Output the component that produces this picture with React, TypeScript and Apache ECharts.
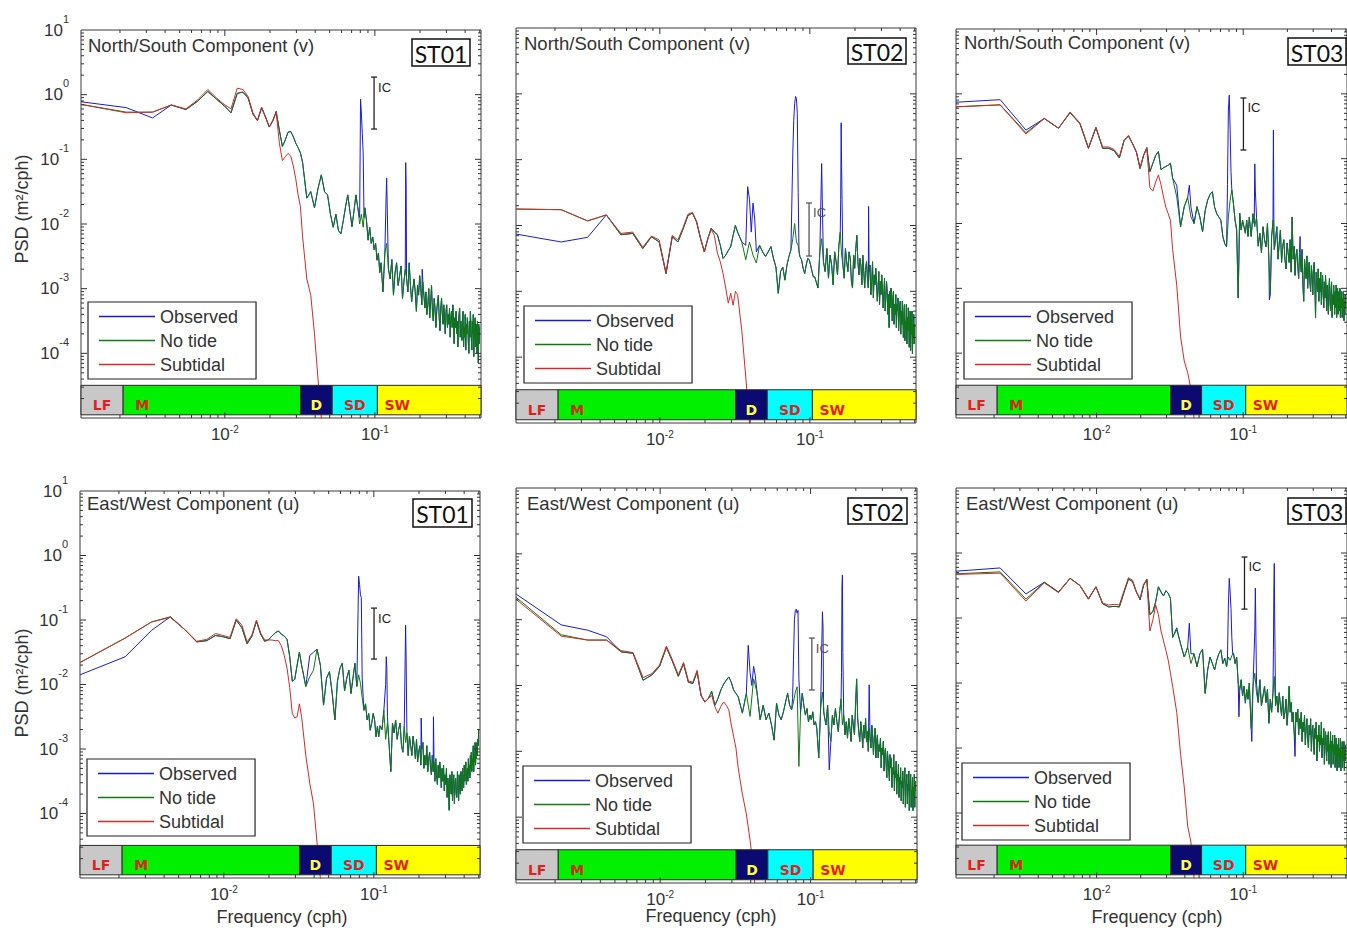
import React, { useEffect, useRef } from "react";
import * as echarts from "echarts";

// Frequency resolution of the spectra (cph) and the bins that are plotted
const DF = 0.0011;
const BINS = [
  1, 2, 3, 4, 5, 6, 7, 8, 9, 10, 11, 12, 13, 14, 15, 16, 17, 18, 19, 20, 21, 22, 23, 24, 25, 26, 27, 28, 29, 30,
  32, 34, 36, 38, 40, 42, 44, 46, 48, 50, 52, 54, 56, 58, 60, 62, 64, 66, 68, 70, 72, 74, 76, 78, 80, 82, 84, 86, 88, 90, 92, 94, 96, 98, 100,
  103, 106, 109, 112, 115, 118, 121, 124, 127, 130, 133, 136, 139, 142, 145, 148, 151, 154, 157, 160,
  163, 166, 169, 172, 175, 178, 181, 184, 187, 190, 193, 196, 199, 202, 205, 208, 211, 214, 217, 220,
  223, 226, 229, 232, 235, 238, 241, 244, 247, 250, 253, 256, 259, 262, 265, 268, 271, 274, 277, 280,
  283, 286, 289, 292, 295, 298, 301, 304, 307, 310, 313, 316, 319, 322, 325, 328, 331, 334, 337, 340,
  343, 346, 349, 352, 355, 358, 361, 364, 367, 370, 373, 376, 379, 382, 385, 388, 391, 394, 397, 400,
  403, 406, 409, 412, 415, 418, 421, 424, 427, 430, 433, 436, 439, 442, 445, 448, 451, 454,
];

// All spectral levels below are log10 of PSD (m²/cph), one value per bin in BINS.
// Observed spectra equal the "No tide" spectra except at the [bin, log10 PSD] points listed.

// ---- North/South component (v), ST01
const NS_ST01_NOTIDE = [
  -0.15, -0.27, -0.27, -0.16, -0.23, -0.10, 0.05, -0.07, -0.17, -0.28, 0.02, 0.04, -0.05, -0.30, -0.40, -0.20, -0.35, -0.50, -0.40, -0.26,
  -0.55, -0.80, -0.70, -0.58, -0.57, -0.65, -0.75, -0.82, -0.90, -1.05,
  -1.60, -1.50, -1.75, -1.45, -1.24, -1.50, -1.55, -1.85, -2.05, -1.85, -2.10, -2.15, -1.95, -1.73, -1.55, -1.80, -2.04, -1.80, -1.55, -1.75,
  -2.00, -1.85, -2.05, -1.75, -1.95, -2.25, -2.05, -2.30, -2.20, -2.40, -2.30, -2.56, -2.45, -2.75, -2.60,
  -3.05, -2.45, -2.30, -2.70, -2.85, -2.55, -3.10, -2.75, -2.60, -2.95,
  -2.80, -2.65, -3.15, -2.90, -2.70, -2.85, -3.05, -2.60, -2.95, -3.20,
  -3.00, -2.85, -3.05, -3.35, -2.95, -3.10, -2.80, -3.00, -3.25, -2.90,
  -3.10, -3.30, -3.05, -3.40, -3.25, -3.00, -3.45, -3.20, -2.95, -3.35,
  -3.50, -3.15, -3.30, -3.60, -3.35, -3.20, -3.10, -3.45, -3.65, -3.30,
  -3.15, -3.40, -3.55, -3.25, -3.45, -3.70, -3.35, -3.25, -3.60, -3.40,
  -3.55, -3.30, -3.75, -3.45, -3.35, -3.60, -3.25, -3.50, -3.85, -3.45,
  -3.60, -3.35, -3.70, -3.50, -3.90, -3.55, -3.40, -3.30, -3.75, -3.50,
  -3.65, -3.80, -3.45, -3.35, -3.90, -3.60, -3.75, -3.40, -3.95, -3.55,
  -3.70, -3.45, -3.60, -3.85, -4.00, -3.50, -3.75, -3.35, -3.55, -3.80,
  -3.95, -3.50, -3.70, -3.40, -4.05, -3.75, -3.60, -3.45, -3.90, -3.55,
  -3.75, -4.00, -3.50, -3.65, -4.15, -3.55, -3.85, -3.60,
];
const NS_ST01_SUBTIDAL = [
  -0.15, -0.28, -0.27, -0.16, -0.22, -0.08, 0.08, -0.05, -0.15, -0.22, 0.10, 0.08, -0.03, -0.28, -0.40, -0.20, -0.35, -0.50, -0.40, -0.27,
  -0.75, -1.02, -0.96, -0.91, -0.95, -1.10, -1.30, -1.55, -1.73, -2.20,
  -2.85, -3.10, -3.70, -4.40, -5.00, -5.60,
];
const NS_ST01_OBS = [
  [1, -0.11], [2, -0.20], [3, -0.36], [72, -1.90], [73, -0.07], [74, -0.30], [75, -0.60], [76, -0.90], [77, -1.90],
  [108, -1.60], [109, -1.29], [146, -1.05], [147, -1.45], [188, -2.70],
];
const NS_ST01_IC = [0.0988, 0.294, 1.87];

// ---- North/South component (v), ST02
const NS_ST02_NOTIDE = [
  -1.75, -1.76, -1.93, -1.84, -2.14, -2.12, -2.35, -2.17, -2.25, -2.73, -2.17, -2.25, -2.05, -1.85, -1.81, -1.95, -2.20, -2.40, -2.20, -2.04,
  -2.10, -2.14, -2.30, -2.50, -2.45, -2.38, -2.32, -2.15, -2.00, -2.10,
  -2.25, -2.52, -2.25, -2.45, -2.57, -2.30, -2.40, -2.47, -2.40, -2.32, -2.50, -2.63, -3.03, -2.70, -2.63, -2.83, -2.60, -2.47, -2.37, -2.20,
  -1.97, -2.25, -2.30, -2.47, -2.52, -2.65, -2.73, -2.60, -2.50, -2.52, -2.60, -2.70, -2.78, -2.78, -2.85,
  -2.95, -2.40, -2.20, -2.55, -2.70, -2.35, -2.80, -2.45, -2.60, -2.90,
  -2.40, -2.55, -2.75, -2.30, -2.10, -2.45, -2.60, -2.80, -2.35, -2.55,
  -2.70, -2.40, -2.50, -2.85, -2.95, -2.45, -2.65, -2.35, -2.15, -2.55,
  -2.75, -2.50, -2.60, -2.90, -2.45, -2.70, -2.95, -2.65, -2.55, -2.80,
  -2.95, -2.70, -2.60, -3.05, -2.85, -2.55, -3.10, -2.75, -2.90, -2.65,
  -2.85, -3.15, -2.95, -2.70, -3.20, -2.85, -3.05, -2.75, -2.95, -3.25,
  -3.05, -2.80, -3.30, -3.10, -2.85, -3.00, -3.35, -3.05, -3.55, -3.00,
  -3.25, -2.95, -3.15, -3.45, -3.10, -3.00, -3.50, -3.20, -3.35, -3.05,
  -3.55, -3.20, -3.30, -3.10, -3.60, -3.40, -3.25, -3.15, -3.65, -3.30,
  -3.50, -3.15, -3.40, -3.70, -3.35, -3.20, -3.75, -3.45, -3.55, -3.20,
  -3.80, -3.40, -3.60, -3.25, -3.50, -3.85, -3.45, -3.30, -3.90, -3.45,
  -3.65, -3.30, -3.95, -3.55, -3.70, -3.35, -3.80, -3.50,
];
const NS_ST02_SUBTIDAL = [
  -1.75, -1.76, -1.93, -1.84, -2.12, -2.10, -2.33, -2.16, -2.22, -2.72, -2.15, -2.22, -2.03, -1.83, -1.80, -1.94, -2.20, -2.40, -2.20, -2.06,
  -2.15, -2.42, -2.55, -2.73, -2.95, -3.18, -3.03, -3.21, -3.00, -3.05,
  -3.60, -4.30, -5.00, -5.60,
];
const NS_ST02_OBS = [
  [1, -2.13], [2, -2.25], [3, -2.18], [34, -2.30], [35, -1.41], [36, -1.60], [37, -2.10], [38, -1.66], [39, -1.90], [40, -2.40],
  [70, -0.90], [71, -0.40], [72, -0.15], [73, -0.04], [74, -0.07], [75, -0.30], [76, -1.50], [77, -2.40],
  [109, -1.06], [110, -1.60], [146, -1.60], [147, -0.44], [148, -1.10], [224, -1.71], [225, -2.30],
];
const NS_ST02_IC = [0.0988, 0.00344, 0.022];

// ---- North/South component (v), ST03
const NS_ST03_NOTIDE = [
  -0.20, -0.17, -0.60, -0.38, -0.53, -0.29, -0.46, -0.84, -0.52, -0.84, -0.84, -0.88, -0.99, -0.72, -0.65, -0.77, -0.90, -1.15, -0.95, -0.83,
  -1.20, -1.07, -0.95, -0.89, -1.17, -1.14, -1.12, -1.10, -1.07, -1.30,
  -1.59, -2.05, -1.74, -1.60, -1.90, -2.00, -1.74, -1.90, -2.13, -1.80, -1.64, -1.55, -1.51, -1.75, -1.85, -1.90, -1.95, -2.20, -2.31, -2.36,
  -1.90, -1.64, -1.48, -1.70, -1.95, -2.10, -3.15, -1.84, -2.10, -1.95, -2.05, -2.15, -1.95, -2.20, -1.90,
  -2.20, -1.85, -2.05, -1.90, -2.35, -2.15, -2.45, -2.05, -2.25, -2.36,
  -2.00, -2.55, -3.10, -2.20, -1.95, -2.40, -2.25, -2.05, -2.55, -2.30,
  -2.10, -2.60, -2.35, -2.25, -2.55, -2.70, -2.30, -2.45, -2.60, -2.25,
  -2.75, -1.90, -2.55, -2.35, -2.80, -2.50, -2.40, -2.65, -2.85, -2.45,
  -2.60, -2.75, -2.40, -2.95, -3.20, -2.55, -2.70, -2.85, -2.50, -3.00,
  -2.75, -2.60, -2.90, -3.05, -2.65, -2.80, -3.10, -2.70, -2.60, -2.95,
  -3.45, -2.75, -2.95, -3.05, -2.70, -3.20, -2.85, -3.05, -2.75, -3.25,
  -2.95, -2.80, -3.10, -3.30, -2.90, -3.15, -2.80, -3.05, -3.35, -2.95,
  -3.15, -3.40, -3.00, -2.85, -3.20, -3.35, -3.05, -2.90, -3.45, -3.10,
  -3.25, -2.95, -3.15, -3.40, -3.05, -3.30, -2.95, -3.45, -3.10, -3.00,
  -3.40, -3.20, -3.05, -3.35, -3.00, -3.45, -3.15, -3.30, -3.05, -3.45,
  -3.15, -3.35, -3.05, -3.50, -3.20, -3.40, -3.10, -3.30,
];
const NS_ST03_SUBTIDAL = [
  -0.20, -0.17, -0.62, -0.38, -0.53, -0.28, -0.45, -0.83, -0.52, -0.82, -0.82, -0.86, -0.97, -0.72, -0.64, -0.77, -0.90, -1.15, -0.95, -0.85,
  -1.45, -1.50, -1.36, -1.25, -1.40, -1.59, -1.75, -1.85, -1.95, -2.40,
  -2.95, -3.75, -4.12, -4.30, -4.55, -5.00, -5.60,
];
const NS_ST03_OBS = [
  [1, -0.13], [2, -0.09], [3, -0.56], [32, -1.41], [39, -1.41], [40, -1.75],
  [71, -1.40], [72, -0.25], [73, -0.02], [74, -0.55], [75, -1.20],
  [108, -2.00], [109, -1.08], [110, -1.50], [137, -3.18], [145, -2.00], [146, -0.56], [147, -1.90], [222, -2.20],
];
const NS_ST03_IC = [0.1003, 0.136, 0.863];

// ---- East/West component (u), ST01
const EW_ST01_NOTIDE = [
  -1.66, -1.28, -1.03, -0.95, -1.15, -1.34, -1.32, -1.24, -1.26, -1.29, -1.00, -1.12, -1.37, -1.25, -1.02, -1.22, -1.33, -1.31, -1.25, -1.20,
  -1.17, -1.22, -1.25, -1.30, -1.57, -1.95, -1.92, -1.70, -1.50, -1.70,
  -2.03, -1.88, -1.78, -1.45, -1.70, -2.32, -1.90, -1.80, -2.14, -2.55, -1.95, -1.75, -1.67, -2.10, -1.90, -1.78, -2.14, -1.90, -1.67, -2.03,
  -1.85, -1.98, -2.20, -2.40, -2.30, -2.55, -2.45, -2.71, -2.60, -2.45, -2.55, -2.81, -2.65, -2.81, -2.64,
  -2.70, -2.40, -2.85, -2.60, -2.95, -3.35, -2.60, -2.75, -2.55, -2.85,
  -2.70, -2.60, -2.95, -3.05, -2.65, -2.90, -2.75, -3.10, -2.80, -2.95,
  -3.10, -2.80, -2.95, -3.15, -2.85, -3.20, -3.05, -2.95, -3.25, -3.00,
  -2.90, -3.30, -3.10, -3.25, -2.95, -3.35, -3.15, -3.05, -3.30, -3.40,
  -3.10, -3.35, -3.20, -3.50, -3.15, -3.40, -3.55, -3.25, -3.45, -3.20,
  -3.35, -3.60, -3.30, -3.50, -3.25, -3.65, -3.40, -3.55, -3.30, -3.75,
  -3.45, -3.60, -3.95, -3.40, -3.55, -3.70, -3.35, -3.80, -3.50, -3.40,
  -3.85, -3.55, -3.45, -3.70, -3.75, -3.35, -3.55, -3.80, -3.40, -3.60,
  -3.70, -3.35, -3.55, -3.65, -3.30, -3.50, -3.60, -3.25, -3.50, -3.35,
  -3.20, -3.55, -3.40, -3.30, -3.50, -3.15, -3.40, -3.25, -3.45, -3.10,
  -3.30, -3.05, -3.35, -3.15, -3.25, -2.95, -3.35, -3.10, -3.20, -2.90,
  -3.25, -3.05, -3.15, -2.90, -3.10, -2.85, -2.95, -2.70,
];
const EW_ST01_SUBTIDAL = [
  -1.66, -1.28, -1.03, -0.96, -1.15, -1.33, -1.30, -1.21, -1.24, -1.27, -0.98, -1.08, -1.34, -1.23, -1.00, -1.20, -1.31, -1.31, -1.31, -1.32,
  -1.32, -1.40, -1.55, -1.75, -2.05, -2.45, -2.52, -2.50, -2.30, -2.50,
  -3.10, -3.53, -3.85, -4.45, -5.00, -5.60,
];
const EW_ST01_OBS = [
  [1, -1.85], [2, -1.57], [3, -1.16], [34, -1.55], [36, -1.50],
  [72, -0.32], [73, -0.45], [74, -0.61], [75, -0.65], [76, -1.90],
  [109, -2.00], [110, -1.57], [111, -1.75], [112, -2.50], [147, -1.60], [148, -1.08], [149, -1.50], [188, -2.52], [227, -2.50],
];
const EW_ST01_IC = [0.1003, 0.0248, 0.153];

// ---- East/West component (u), ST02
const EW_ST02_NOTIDE = [
  -0.66, -1.23, -1.31, -1.31, -1.49, -1.51, -1.92, -1.84, -1.71, -1.42, -1.64, -1.86, -1.67, -1.95, -1.97, -1.79, -2.15, -2.25, -2.20, -2.09,
  -2.30, -2.20, -2.07, -1.98, -1.92, -1.87, -1.95, -2.07, -2.12, -2.17,
  -2.42, -2.12, -2.47, -1.90, -2.10, -2.52, -2.30, -2.52, -2.42, -2.60, -2.83, -2.27, -2.45, -2.52, -2.40, -2.25, -2.12, -2.30, -2.37, -2.25,
  -2.10, -2.02, -3.23, -2.40, -2.12, -2.30, -2.45, -2.35, -2.55, -2.45, -2.52, -2.40, -2.60, -2.55, -2.65,
  -3.10, -2.35, -2.10, -2.45, -2.60, -2.30, -2.70, -2.85, -2.45, -2.60,
  -2.35, -2.55, -2.70, -2.40, -2.20, -2.60, -2.45, -2.75, -2.55, -2.80,
  -2.50, -2.65, -2.85, -2.45, -2.60, -2.75, -2.30, -1.90, -2.50, -2.70,
  -2.85, -2.55, -2.70, -2.95, -2.60, -2.80, -2.50, -2.85, -2.70, -3.00,
  -2.65, -2.80, -2.95, -2.60, -2.75, -3.05, -2.80, -2.65, -3.10, -2.85,
  -2.75, -3.10, -2.90, -3.00, -2.80, -3.25, -2.95, -3.05, -2.85, -3.30,
  -3.05, -2.95, -3.20, -3.40, -3.00, -3.15, -3.30, -3.45, -3.05, -3.25,
  -3.10, -3.55, -3.25, -3.35, -3.05, -3.60, -3.30, -3.40, -3.15, -3.65,
  -3.35, -3.45, -3.20, -3.70, -3.40, -3.50, -3.25, -3.75, -3.45, -3.55,
  -3.30, -3.80, -3.50, -3.40, -3.25, -3.85, -3.55, -3.45, -3.35, -3.80,
  -3.50, -3.60, -3.30, -3.90, -3.55, -3.45, -3.35, -3.85, -3.60, -3.65,
  -3.40, -3.90, -3.55, -3.70, -3.35, -3.85, -3.45, -3.60,
];
const EW_ST02_SUBTIDAL = [
  -0.69, -1.25, -1.31, -1.31, -1.47, -1.50, -1.88, -1.82, -1.69, -1.40, -1.62, -1.84, -1.65, -1.93, -1.95, -1.77, -2.15, -2.25, -2.20, -2.15,
  -2.32, -2.42, -2.32, -2.25, -2.30, -2.37, -2.60, -2.78, -2.95, -3.25,
  -3.65, -3.95, -4.35, -4.80, -5.40,
];
const EW_ST02_OBS = [
  [1, -0.61], [2, -1.08], [3, -1.16], [4, -1.26], [35, -1.39], [36, -1.80], [37, -2.00], [38, -1.71], [39, -1.85],
  [69, -2.20], [70, -1.60], [71, -1.00], [72, -0.86], [73, -0.84], [74, -0.90], [75, -0.86], [76, -1.90],
  [109, -0.88], [110, -1.10], [111, -2.40], [121, -3.28], [146, -1.80], [147, -0.50], [148, -0.32], [149, -1.50], [223, -1.99],
];
const EW_ST02_IC = [0.102, 0.00855, 0.0526];

// ---- East/West component (u), ST03
const EW_ST03_NOTIDE = [
  -0.32, -0.29, -0.71, -0.45, -0.60, -0.39, -0.50, -0.71, -0.52, -0.78, -0.83, -0.82, -0.83, -0.60, -0.40, -0.44, -0.60, -0.72, -0.50, -0.40,
  -0.95, -0.90, -0.75, -0.52, -0.60, -0.66, -0.58, -0.62, -0.70, -1.30,
  -1.18, -1.40, -1.60, -1.45, -1.70, -1.55, -1.75, -1.55, -1.48, -2.16, -1.80, -1.60, -1.70, -1.80, -1.65, -1.55, -1.49, -1.70, -1.62, -1.75,
  -1.60, -1.65, -1.58, -1.54, -1.70, -1.60, -2.00, -2.11, -1.95, -2.20, -2.05, -2.31, -2.10, -2.25, -2.00,
  -2.70, -2.05, -1.85, -2.15, -2.30, -1.95, -2.35, -2.20, -2.05, -2.30,
  -2.10, -2.62, -2.25, -2.45, -2.15, -1.90, -2.35, -2.20, -2.45, -2.15,
  -2.35, -2.50, -2.20, -2.55, -2.45, -2.25, -2.65, -2.40, -2.05, -2.45,
  -2.30, -2.60, -2.45, -2.75, -2.85, -2.45, -2.60, -2.40, -2.80, -2.55,
  -2.70, -2.45, -2.90, -2.60, -2.75, -2.50, -2.95, -2.70, -2.55, -2.85,
  -3.00, -2.65, -2.80, -2.55, -3.05, -2.75, -2.65, -2.90, -3.10, -2.70,
  -2.85, -2.60, -3.20, -2.80, -2.90, -2.65, -3.05, -2.80, -2.95, -2.60,
  -3.15, -2.85, -2.95, -2.70, -3.25, -2.90, -2.75, -3.00, -3.20, -2.80,
  -3.05, -2.75, -3.25, -2.95, -3.00, -2.75, -3.30, -2.90, -3.05, -2.80,
  -3.25, -2.95, -3.10, -2.80, -3.30, -3.00, -2.85, -3.15, -3.35, -2.95,
  -3.10, -2.85, -3.30, -3.00, -3.15, -2.85, -3.35, -3.05, -3.15, -2.90,
  -3.30, -3.00, -3.20, -2.90, -3.35, -3.05, -3.20, -2.95,
];
const EW_ST03_SUBTIDAL = [
  -0.33, -0.31, -0.74, -0.46, -0.61, -0.39, -0.50, -0.70, -0.52, -0.77, -0.80, -0.79, -0.80, -0.58, -0.38, -0.42, -0.60, -0.70, -0.48, -0.42,
  -1.20, -1.03, -0.80, -0.95, -1.20, -1.35, -1.50, -1.65, -1.85, -2.05,
  -2.45, -3.10, -3.60, -4.20, -4.45, -5.00, -5.60,
];
const EW_ST03_OBS = [
  [1, -0.28], [2, -0.23], [3, -0.63], [32, -1.15], [39, -1.08], [40, -1.55],
  [71, -1.60], [72, -0.80], [73, -0.39], [74, -0.60], [75, -0.85], [76, -1.30], [77, -1.55], [85, -2.52], [104, -2.90],
  [109, -1.20], [110, -0.54], [111, -1.30], [112, -2.00], [146, -1.50], [147, -0.60], [148, -0.16], [149, -1.00], [205, -3.13],
];
const EW_ST03_IC = [0.102, 0.137, 0.868];

// Frequency bands (cph edges) and text
const BAND_NAMES = ["LF", "M", "D", "SD", "SW"];
const BAND_EDGES = [0.0011, 0.0021, 0.032, 0.052, 0.104, 0.51];
const COMPONENT_TITLES = ["North/South Component (v)", "East/West Component (u)"];
const STATIONS = ["ST01", "ST02", "ST03"];
const LEGEND_NAMES = ["Observed", "No tide", "Subtidal"];

const PANEL_DATA = [
  { noTide: NS_ST01_NOTIDE, subtidal: NS_ST01_SUBTIDAL, obs: NS_ST01_OBS, ic: NS_ST01_IC, title: COMPONENT_TITLES[0], station: STATIONS[0] },
  { noTide: NS_ST02_NOTIDE, subtidal: NS_ST02_SUBTIDAL, obs: NS_ST02_OBS, ic: NS_ST02_IC, title: COMPONENT_TITLES[0], station: STATIONS[1] },
  { noTide: NS_ST03_NOTIDE, subtidal: NS_ST03_SUBTIDAL, obs: NS_ST03_OBS, ic: NS_ST03_IC, title: COMPONENT_TITLES[0], station: STATIONS[2] },
  { noTide: EW_ST01_NOTIDE, subtidal: EW_ST01_SUBTIDAL, obs: EW_ST01_OBS, ic: EW_ST01_IC, title: COMPONENT_TITLES[1], station: STATIONS[0] },
  { noTide: EW_ST02_NOTIDE, subtidal: EW_ST02_SUBTIDAL, obs: EW_ST02_OBS, ic: EW_ST02_IC, title: COMPONENT_TITLES[1], station: STATIONS[1] },
  { noTide: EW_ST03_NOTIDE, subtidal: EW_ST03_SUBTIDAL, obs: EW_ST03_OBS, ic: EW_ST03_IC, title: COMPONENT_TITLES[1], station: STATIONS[2] },
];

// ---- Layout and styling
const X_MIN = 0.0011;
const X_MAX = 0.51;
const Y_MIN = 1e-5;
const Y_MAX = 10;
const BAND_BOTTOM = 1.12e-5;
const BAND_TOP = 3.2e-5;
const FONT = '"Liberation Sans", Arial, sans-serif';
const COLORS = { observed: "#1a1ad8", noTide: "#0f7a0f", subtidal: "#d42a2a" };
const BAND_STYLE = [
  { fill: "#c8c8c8", text: "#e41e1e", anchor: "center", offset: 0 },
  { fill: "#00f000", text: "#d42a10", anchor: "left", offset: 12 },
  { fill: "#0a0a70", text: "#ffff3c", anchor: "center", offset: 0 },
  { fill: "#00ffff", text: "#e41e1e", anchor: "center", offset: 0 },
  { fill: "#ffff00", text: "#e41e1e", anchor: "left", offset: 7 },
];

const LAYOUT = [
  { grid: [81, 30, 400, 388], title: [88, 45], station: [412, 39, 58, 27], legend: [88, 302], yLabels: true, yName: [22, 209], xName: null, icColor: "#222" },
  { grid: [516, 28, 400, 395], title: [524, 43], station: [848, 38, 58, 26], legend: [524, 306], yLabels: false, yName: null, xName: null, icColor: "#555" },
  { grid: [956, 29, 400, 389], title: [964, 42], station: [1288, 38, 58, 27], legend: [964, 302], yLabels: false, yName: null, xName: null, icColor: "#222" },
  { grid: [80, 491, 400, 387], title: [87, 503], station: [413, 499, 59, 28], legend: [87, 759], yLabels: true, yName: [22, 683], xName: [282, 917], icColor: "#222" },
  { grid: [516, 488, 401, 395], title: [527, 503], station: [848, 498, 59, 26], legend: [523, 766], yLabels: false, yName: null, xName: [711, 916], icColor: "#555" },
  { grid: [956, 488, 400, 390], title: [966, 503], station: [1288, 498, 58, 26], legend: [962, 763], yLabels: false, yName: null, xName: [1157, 917], icColor: "#222" },
];

const powerLabel = (v: number) => `{b|10}{s|${Math.round(Math.log10(v))}}`;
const Y_RICH = {
  b: { fontSize: 17, fontFamily: FONT, color: "#333", lineHeight: 34, verticalAlign: "middle" },
  s: { fontSize: 11, fontFamily: FONT, color: "#333", lineHeight: 12, verticalAlign: "top" },
};
const X_RICH = {
  b: { fontSize: 17, fontFamily: FONT, color: "#333", lineHeight: 20, verticalAlign: "middle" },
  s: { fontSize: 10, fontFamily: FONT, color: "#333", lineHeight: 8, verticalAlign: "top" },
};

function toPoints(bins: number[], logs: number[]) {
  return logs.map((v, i) => [bins[i] * DF, Math.pow(10, v)]);
}

function observedPoints(noTide: number[], extra: number[][]) {
  const m = new Map<number, number>();
  BINS.forEach((b, i) => m.set(b, noTide[i]));
  extra.forEach(([b, v]) => m.set(b, v));
  return [...m.entries()].sort((a, b) => a[0] - b[0]).map(([b, v]) => [b * DF, Math.pow(10, v)]);
}

function tickLine(x1: number, y1: number, x2: number, y2: number) {
  return { type: "line", shape: { x1, y1, x2, y2 }, style: { stroke: "#333", lineWidth: 1 } };
}

function buildOption() {
  const grid: any[] = [];
  const xAxis: any[] = [];
  const yAxis: any[] = [];
  const series: any[] = [];
  const legend: any[] = [];
  const graphic: any[] = [];

  PANEL_DATA.forEach((pd, i) => {
    const L = LAYOUT[i];
    const [gl, gt, gw, gh] = L.grid;
    grid.push({ left: gl, top: gt, width: gw, height: gh, show: true, borderColor: "#3a3a3a", borderWidth: 1, backgroundColor: "#fff" });
    xAxis.push({
      type: "log", logBase: 10, gridIndex: i, min: X_MIN, max: X_MAX,
      axisLine: { show: false }, axisTick: { show: false }, splitLine: { show: false },
      axisLabel: { margin: 6, showMinLabel: false, showMaxLabel: false, formatter: powerLabel, rich: X_RICH },
    });
    yAxis.push({
      type: "log", logBase: 10, gridIndex: i, min: Y_MIN, max: Y_MAX,
      axisLine: { show: false }, axisTick: { show: false }, splitLine: { show: false },
      axisLabel: { show: L.yLabels, margin: 12, showMinLabel: false, formatter: powerLabel, rich: Y_RICH },
    });

    const common = { type: "line", xAxisIndex: i, yAxisIndex: i, symbol: "none", showSymbol: false, clip: true, silent: true };
    series.push({ ...common, name: LEGEND_NAMES[0], data: observedPoints(pd.noTide, pd.obs), lineStyle: { width: 1, color: COLORS.observed }, itemStyle: { color: COLORS.observed } });
    series.push({ ...common, name: LEGEND_NAMES[1], data: toPoints(BINS, pd.noTide), lineStyle: { width: 1, color: COLORS.noTide }, itemStyle: { color: COLORS.noTide } });
    series.push({ ...common, name: LEGEND_NAMES[2], data: toPoints(BINS, pd.subtidal), lineStyle: { width: 1, color: COLORS.subtidal }, itemStyle: { color: COLORS.subtidal } });

    // frequency band strip along the bottom of the frame
    series.push({
      type: "custom", xAxisIndex: i, yAxisIndex: i, z: 5, silent: true,
      data: BAND_NAMES.map((_, j) => [BAND_EDGES[j], BAND_EDGES[j + 1], j]),
      renderItem: (params: any, api: any) => {
        const j = api.value(2);
        const p0 = api.coord([api.value(0), BAND_TOP]);
        const p1 = api.coord([api.value(1), BAND_BOTTOM]);
        const st = BAND_STYLE[j];
        const w = p1[0] - p0[0];
        const tx = st.anchor === "left" ? p0[0] + st.offset : p0[0] + w / 2;
        return {
          type: "group",
          children: [
            { type: "rect", shape: { x: p0[0], y: p0[1], width: w, height: p1[1] - p0[1] }, style: { fill: st.fill, stroke: "#2a2a2a", lineWidth: 1 } },
            {
              type: "text", x: tx, y: (p0[1] + p1[1]) / 2 + 5,
              style: { text: BAND_NAMES[j], fill: st.text, font: 'bold 14px "DejaVu Sans", Verdana, sans-serif', align: st.anchor === "left" ? "left" : "center", verticalAlign: "middle" },
            },
          ],
        };
      },
    });

    // major and minor log ticks on all four sides of the frame
    series.push({
      type: "custom", xAxisIndex: i, yAxisIndex: i, z: 6, silent: true,
      data: [[X_MIN, Y_MIN]],
      renderItem: (params: any, api: any) => {
        const cs = params.coordSys;
        const x0 = cs.x, x1 = cs.x + cs.width, y0 = cs.y, y1 = cs.y + cs.height;
        const children: any[] = [];
        for (let d = -3; d <= 0; d++) {
          for (let m = 1; m <= 9; m++) {
            const v = m * Math.pow(10, d);
            if (v <= X_MIN * 1.001 || v >= X_MAX) continue;
            const px = api.coord([v, Y_MIN])[0];
            const len = m === 1 ? 6 : 3;
            children.push(tickLine(px, y1, px, y1 - len), tickLine(px, y0, px, y0 + len));
          }
        }
        for (let d = -5; d <= 0; d++) {
          for (let m = 1; m <= 9; m++) {
            const v = m * Math.pow(10, d);
            if (v <= Y_MIN * 1.001 || v >= Y_MAX) continue;
            const py = api.coord([X_MIN, v])[1];
            const len = m === 1 ? 6 : 3;
            children.push(tickLine(x0, py, x0 + len, py), tickLine(x1, py, x1 - len, py));
          }
        }
        return { type: "group", children };
      },
    });

    // confidence interval bar
    series.push({
      type: "custom", xAxisIndex: i, yAxisIndex: i, z: 6, silent: true,
      data: [pd.ic],
      renderItem: (params: any, api: any) => {
        const top = api.coord([api.value(0), api.value(2)]);
        const bot = api.coord([api.value(0), api.value(1)]);
        const c = L.icColor;
        const st = { stroke: c, lineWidth: 1.3 };
        return {
          type: "group",
          children: [
            { type: "line", shape: { x1: top[0], y1: top[1], x2: bot[0], y2: bot[1] }, style: st },
            { type: "line", shape: { x1: top[0] - 3, y1: top[1], x2: top[0] + 3, y2: top[1] }, style: st },
            { type: "line", shape: { x1: bot[0] - 3, y1: bot[1], x2: bot[0] + 3, y2: bot[1] }, style: st },
            { type: "text", x: top[0] + 4, y: top[1] + 10, style: { text: "IC", fill: c, font: `13px ${FONT}`, align: "left", verticalAlign: "middle" } },
          ],
        };
      },
    });

    legend.push({
      data: LEGEND_NAMES, orient: "vertical", left: L.legend[0], top: L.legend[1],
      icon: "rect", padding: [5, 18, 5, 11], itemGap: 5, itemWidth: 56, itemHeight: 1.5,
      backgroundColor: "#fff", borderColor: "#222", borderWidth: 1.2, borderRadius: 0,
      selectedMode: false, textStyle: { fontSize: 18, color: "#333", fontFamily: FONT, lineHeight: 19 },
    });

    graphic.push({ type: "text", x: L.title[0], y: L.title[1], z: 10, style: { text: pd.title, font: `18.5px ${FONT}`, fill: "#333", align: "left", verticalAlign: "middle" } });
    const [sx, sy, sw, sh] = L.station;
    graphic.push({ type: "rect", shape: { x: sx, y: sy, width: sw, height: sh }, z: 10, style: { fill: "#fff", stroke: "#111", lineWidth: 1.5 } });
    graphic.push({ type: "text", x: sx + sw / 2, y: sy + sh / 2 + 1, z: 11, style: { text: pd.station, font: "23px Lato, sans-serif", fill: "#111", align: "center", verticalAlign: "middle" } });
    if (L.yName) {
      graphic.push({ type: "text", x: L.yName[0], y: L.yName[1], rotation: Math.PI / 2, z: 10, style: { text: "PSD (m²/cph)", font: `18px ${FONT}`, fill: "#333", align: "center", verticalAlign: "middle" } });
    }
    if (L.xName) {
      graphic.push({ type: "text", x: L.xName[0], y: L.xName[1], z: 10, style: { text: "Frequency (cph)", font: `18px ${FONT}`, fill: "#333", align: "center", verticalAlign: "middle" } });
    }
  });

  return { animation: false, backgroundColor: "#fff", grid, xAxis, yAxis, series, legend, graphic };
}

export default function App() {
  const ref = useRef<HTMLDivElement>(null);
  useEffect(() => {
    if (!ref.current) return;
    const chart = echarts.init(ref.current, undefined, { renderer: "svg" });
    chart.setOption(buildOption() as any);
    return () => chart.dispose();
  }, []);
  return <div ref={ref} style={{ position: "fixed", left: 0, top: 0, width: 1347, height: 928, background: "#fff" }} />;
}
